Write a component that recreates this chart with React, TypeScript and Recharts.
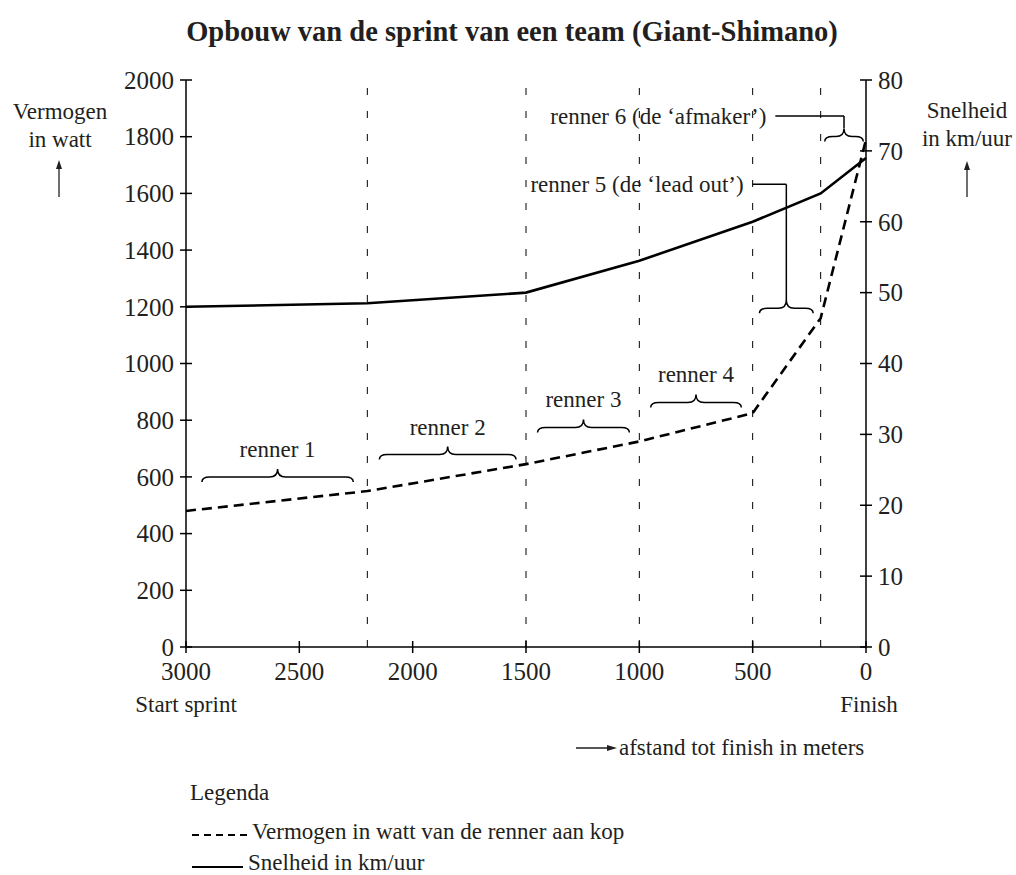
import React from 'react';
import { LineChart, Line, XAxis, YAxis, ReferenceLine } from 'recharts';

// distance to finish (m) and the two measured series
const distances = [3000, 2200, 1500, 1000, 500, 200, 0];
const powerWatt = [480, 550, 645, 725, 825, 1160, 1790];
const speedKmh = [48, 48.5, 50, 54.5, 60, 64, 69];

const distanceTicks = [3000, 2500, 2000, 1500, 1000, 500, 0];
const wattTicks = [0, 200, 400, 600, 800, 1000, 1200, 1400, 1600, 1800, 2000];
const speedTicks = [0, 10, 20, 30, 40, 50, 60, 70, 80];

// where the lead rider changes
const riderChanges = [2200, 1500, 1000, 500, 200];

// braces with a label above them (y in watt)
const riderBraces = [
  { label: 'renner 1', from: 2930, to: 2262, y: 582 },
  { label: 'renner 2', from: 2147, to: 1544, y: 661 },
  { label: 'renner 3', from: 1449, to: 1044, y: 757 },
  { label: 'renner 4', from: 950, to: 550, y: 845 },
];

// braces with a leader line to the label
const leaderBraces = [
  { label: 'renner 5 (de \u2018lead out\u2019)', from: 470, to: 233, y: 1177, tip: 1221, lineY: 1632, lineEnd: 500 },
  { label: 'renner 6 (de \u2018afmaker\u2019)', from: 182, to: 12, y: 1783, tip: 1830, lineY: 1873, lineEnd: 400 },
];

const data = distances.map((d, i) => ({ afstand: d, vermogen: powerWatt[i], snelheid: speedKmh[i] }));

const FONT = '"Liberation Serif", "Times New Roman", serif';
const INK = '#231f20';

const LeftTick = ({ x, y, payload }: any) => (
  <g>
    <line x1={x - 6} x2={x + 6} y1={y} y2={y} stroke="#000" strokeWidth={1.5} />
    <text x={x - 12} y={y} dy="0.35em" textAnchor="end" fontSize={25} fontFamily={FONT} fill={INK}>
      {payload.value}
    </text>
  </g>
);

const RightTick = ({ x, y, payload }: any) => (
  <g>
    <line x1={x - 6} x2={x + 6} y1={y} y2={y} stroke="#000" strokeWidth={1.5} />
    <text x={x + 12} y={y} dy="0.35em" textAnchor="start" fontSize={25} fontFamily={FONT} fill={INK}>
      {payload.value}
    </text>
  </g>
);

const BottomTick = ({ x, y, payload }: any) => (
  <g>
    <line x1={x} x2={x} y1={y - 6} y2={y + 6} stroke="#000" strokeWidth={1.5} />
    <text x={x} y={y + 33} textAnchor="middle" fontSize={25} fontFamily={FONT} fill={INK}>
      {payload.value}
    </text>
  </g>
);

const bracePath = (a: number, b: number, y: number) => {
  const l = Math.min(a, b);
  const r = Math.max(a, b);
  const m = (l + r) / 2;
  const f = y - 5;
  const t = y - 13;
  return `M${l},${y} Q${l},${f} ${l + 8},${f} L${m - 8},${f} Q${m},${f} ${m},${t} Q${m},${f} ${m + 8},${f} L${r - 8},${f} Q${r},${f} ${r},${y}`;
};

const braceShape = (label?: string) => (p: any) => {
  const m = (p.x1 + p.x2) / 2;
  return (
    <g>
      <path d={bracePath(p.x1, p.x2, p.y1)} fill="none" stroke="#000" strokeWidth={1.5} />
      {label && (
        <text x={m} y={p.y1 - 25} textAnchor="middle" fontSize={23} fontFamily={FONT} fill={INK}>
          {label}
        </text>
      )}
    </g>
  );
};

const leaderShape = (label?: string) => (p: any) => (
  <g>
    <line x1={p.x1} y1={p.y1} x2={p.x2} y2={p.y2} stroke="#000" strokeWidth={1.5} />
    {label && (
      <text x={p.x2 - 9} y={p.y2} dy="0.33em" textAnchor="end" fontSize={23} fontFamily={FONT} fill={INK}>
        {label}
      </text>
    )}
  </g>
);

const UpArrow = ({ x, y1, y2 }: { x: number; y1: number; y2: number }) => (
  <g>
    <line x1={x} y1={y2} x2={x} y2={y1 + 6} stroke={INK} strokeWidth={1.3} />
    <polygon points={`${x},${y1} ${x - 3},${y1 + 9} ${x + 3},${y1 + 9}`} fill={INK} />
  </g>
);

export default function App() {
  return (
    <div style={{ position: 'absolute', left: 0, top: 0, width: 1016, height: 875, background: '#fff' }}>
      <LineChart
        width={1016}
        height={875}
        data={data}
        margin={{ top: 80, right: 90, bottom: 198, left: 126 }}
      >
        <XAxis
          dataKey="afstand"
          type="number"
          domain={[0, 3000]}
          ticks={distanceTicks}
          reversed
          height={30}
          tickSize={0}
          tickMargin={0}
          tickLine={false}
          axisLine={{ stroke: '#000', strokeWidth: 1.5 }}
          tick={<BottomTick />}
        />
        <YAxis
          yAxisId="w"
          orientation="left"
          domain={[0, 2000]}
          ticks={wattTicks}
          width={60}
          tickSize={0}
          tickMargin={0}
          tickLine={false}
          axisLine={{ stroke: '#000', strokeWidth: 1.5 }}
          tick={<LeftTick />}
        />
        <YAxis
          yAxisId="s"
          orientation="right"
          domain={[0, 80]}
          ticks={speedTicks}
          width={60}
          tickSize={0}
          tickMargin={0}
          tickLine={false}
          axisLine={{ stroke: '#000', strokeWidth: 1.5 }}
          tick={<RightTick />}
        />

        {riderChanges.map((d) => (
          <ReferenceLine key={`rc-${d}`} x={d} yAxisId="w" stroke="#000" strokeWidth={1} strokeDasharray="7 16" />
        ))}

        {riderBraces.map((b) => (
          <ReferenceLine
            key={b.label}
            yAxisId="w"
            segment={[{ x: b.from, y: b.y }, { x: b.to, y: b.y }]}
            shape={braceShape(b.label)}
          />
        ))}

        {leaderBraces.map((b) => {
          const mid = (b.from + b.to) / 2;
          return (
            <React.Fragment key={b.label}>
              <ReferenceLine
                yAxisId="w"
                segment={[{ x: b.from, y: b.y }, { x: b.to, y: b.y }]}
                shape={braceShape()}
              />
              <ReferenceLine
                yAxisId="w"
                segment={[{ x: mid, y: b.tip }, { x: mid, y: b.lineY }]}
                shape={leaderShape()}
              />
              <ReferenceLine
                yAxisId="w"
                segment={[{ x: mid, y: b.lineY }, { x: b.lineEnd, y: b.lineY }]}
                shape={leaderShape(b.label)}
              />
            </React.Fragment>
          );
        })}

        <Line
          yAxisId="s"
          type="linear"
          dataKey="snelheid"
          stroke="#000"
          strokeWidth={2.6}
          dot={false}
          isAnimationActive={false}
        />
        <Line
          yAxisId="w"
          type="linear"
          dataKey="vermogen"
          stroke="#000"
          strokeWidth={2.6}
          strokeDasharray="10 6"
          dot={false}
          isAnimationActive={false}
        />
      </LineChart>

      <svg
        width={1016}
        height={875}
        style={{ position: 'absolute', left: 0, top: 0, pointerEvents: 'none' }}
        fontFamily={FONT}
        fill={INK}
      >
        <text x={512} y={41} textAnchor="middle" fontSize={28.5} fontWeight="bold">
          Opbouw van de sprint van een team (Giant-Shimano)
        </text>

        <text x={60} y={119} textAnchor="middle" fontSize={23}>Vermogen</text>
        <text x={60} y={147} textAnchor="middle" fontSize={23}>in watt</text>
        <UpArrow x={59} y1={160} y2={197} />

        <text x={967} y={118} textAnchor="middle" fontSize={23}>Snelheid</text>
        <text x={967} y={146} textAnchor="middle" fontSize={23}>in km/uur</text>
        <UpArrow x={967} y1={161} y2={197} />

        <text x={186} y={712} textAnchor="middle" fontSize={23}>Start sprint</text>
        <text x={869} y={712} textAnchor="middle" fontSize={23}>Finish</text>

        <line x1={576} y1={748} x2={609} y2={748} stroke={INK} strokeWidth={1.3} />
        <polygon points="617,748 607,745 607,751" fill={INK} />
        <text x={619} y={755} fontSize={23}>afstand tot finish in meters</text>

        <text x={190} y={800} fontSize={23}>Legenda</text>
        <line x1={192} y1={835} x2={248} y2={835} stroke="#000" strokeWidth={2} strokeDasharray="7 5" />
        <text x={252} y={839} fontSize={23}>Vermogen in watt van de renner aan kop</text>
        <line x1={192} y1={867} x2={243} y2={867} stroke="#000" strokeWidth={2} />
        <text x={248} y={870} fontSize={23}>Snelheid in km/uur</text>
      </svg>
    </div>
  );
}
